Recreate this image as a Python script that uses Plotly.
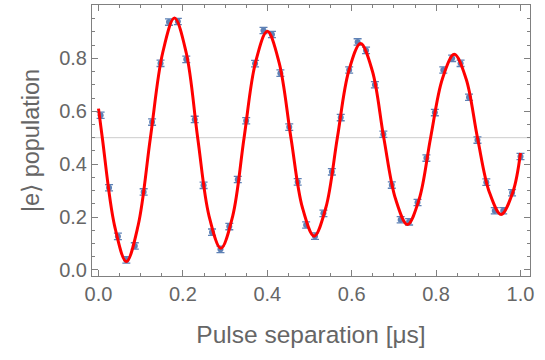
import plotly.graph_objects as go

# Ramsey fringe: excited-state population vs pulse separation
t_us = [0.005, 0.025, 0.046, 0.066, 0.086, 0.107, 0.127, 0.147, 0.167, 0.188,
        0.208, 0.228, 0.249, 0.269, 0.289, 0.310, 0.330, 0.350, 0.371, 0.391,
        0.411, 0.431, 0.452, 0.472, 0.492, 0.513, 0.533, 0.553, 0.574, 0.594,
        0.614, 0.634, 0.655, 0.675, 0.695, 0.716, 0.736, 0.756, 0.777, 0.797,
        0.817, 0.838, 0.858, 0.878, 0.898, 0.919, 0.939, 0.959, 0.980, 1.000]
population = [0.585, 0.311, 0.127, 0.038, 0.091, 0.295, 0.559, 0.781, 0.937, 0.939,
              0.796, 0.569, 0.320, 0.143, 0.078, 0.164, 0.342, 0.564, 0.780, 0.905,
              0.890, 0.744, 0.540, 0.333, 0.170, 0.128, 0.214, 0.371, 0.576, 0.756,
              0.862, 0.830, 0.700, 0.513, 0.321, 0.190, 0.182, 0.255, 0.423, 0.595,
              0.756, 0.800, 0.781, 0.653, 0.491, 0.332, 0.224, 0.224, 0.292, 0.429]
pop_err = [0.012] * len(t_us)

# Fitted damped oscillation, sampled at extrema, mid-line crossings and eighth-periods
fit_t = [0.000, 0.009, 0.038, 0.066, 0.094, 0.123, 0.152, 0.180, 0.208, 0.235,
         0.262, 0.290, 0.318, 0.345, 0.372, 0.400, 0.428, 0.456, 0.483, 0.511,
         0.539, 0.566, 0.593, 0.621, 0.649, 0.676, 0.704, 0.732, 0.760, 0.787,
         0.815, 0.843, 0.871, 0.898, 0.926, 0.954, 0.982, 1.000]
fit_pop = [0.610, 0.500, 0.168, 0.032, 0.169, 0.500, 0.820, 0.952, 0.820, 0.500,
           0.204, 0.082, 0.204, 0.500, 0.784, 0.902, 0.784, 0.500, 0.237, 0.128,
           0.237, 0.500, 0.752, 0.856, 0.752, 0.500, 0.268, 0.172, 0.268, 0.500,
           0.723, 0.815, 0.723, 0.500, 0.295, 0.210, 0.295, 0.442]

x_ticks = [0.0, 0.2, 0.4, 0.6, 0.8, 1.0]
y_ticks = [0.0, 0.2, 0.4, 0.6, 0.8]

FRAME = "#808080"
TEXT = "#666666"
POINT = "#5E81B5"
FONT = "Liberation Sans, Arial, sans-serif"

fig = go.Figure()

fig.add_trace(go.Scatter(
    x=t_us, y=population, mode="markers",
    marker=dict(size=6, color=POINT),
    error_y=dict(type="data", array=pop_err, color=POINT, thickness=1.3, width=4),
    showlegend=False,
))

fig.add_trace(go.Scatter(
    x=fit_t, y=fit_pop, mode="lines",
    line=dict(color="#ff0000", width=3, shape="spline", smoothing=1.0),
    showlegend=False,
))

fig.add_hline(y=0.5, line=dict(color="#cccccc", width=1), layer="below")

axis_common = dict(
    showline=True, linecolor=FRAME, linewidth=1, mirror="ticks",
    ticks="inside", ticklen=6, tickcolor=FRAME, tickwidth=1,
    showgrid=False, zeroline=False,
    tickfont=dict(family=FONT, size=20, color=TEXT),
)

fig.update_xaxes(
    range=[-0.0154, 1.0225], tickvals=x_ticks, tickformat=".1f",
    minor=dict(dtick=0.05, ticks="inside", ticklen=3, tickcolor=FRAME, showgrid=False),
    title=dict(text="Pulse separation [μs]", font=dict(family=FONT, size=24.5, color=TEXT), standoff=21),
    **axis_common,
)
fig.update_yaxes(
    range=[-0.0227, 1.0015], tickvals=y_ticks, tickformat=".1f",
    minor=dict(dtick=0.05, ticks="inside", ticklen=3, tickcolor=FRAME, showgrid=False),
    title=dict(text="|e⟩ population", font=dict(family=FONT, size=23.5, color=TEXT), standoff=12),
    **axis_common,
)

fig.update_layout(
    width=545, height=360,
    margin=dict(l=92, r=15, t=5, b=84),
    paper_bgcolor="white", plot_bgcolor="white",
)

fig.write_html("out.html")
